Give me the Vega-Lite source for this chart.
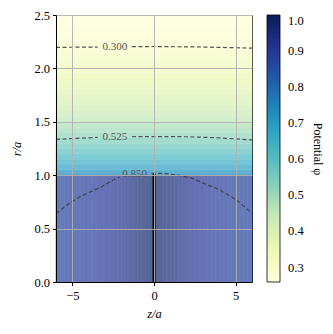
{
  "$schema": "https://vega.github.io/schema/vega-lite/v6.json",
  "autosize": "none",
  "padding": {"left": 56, "top": 15, "right": 81, "bottom": 52},
  "width": 196,
  "height": 267,
  "config": {
    "font": "Liberation Serif",
    "view": {"stroke": "black", "strokeWidth": 1},
    "axis": {
      "labelFont": "Liberation Serif",
      "titleFont": "Liberation Serif",
      "labelFontSize": 12.5,
      "titleFontSize": 12.5,
      "titleFontWeight": "normal",
      "titleFontStyle": "italic",
      "labelColor": "black",
      "titleColor": "black",
      "domainColor": "black",
      "tickColor": "black",
      "tickSize": 3.5,
      "labelPadding": 3,
      "grid": true,
      "gridColor": "#b0b0b0",
      "gridWidth": 0.9,
      "gridOpacity": 1
    }
  },
  "datasets": {
    "heat": [
      {"z": -6, "z2": 6, "r": 1.0, "r2": 1.05, "phi": 0.7288},
      {"z": -6, "z2": 6, "r": 1.05, "r2": 1.1, "phi": 0.6897},
      {"z": -6, "z2": 6, "r": 1.1, "r2": 1.15, "phi": 0.6542},
      {"z": -6, "z2": 6, "r": 1.15, "r2": 1.2, "phi": 0.622},
      {"z": -6, "z2": 6, "r": 1.2, "r2": 1.25, "phi": 0.5927},
      {"z": -6, "z2": 6, "r": 1.25, "r2": 1.3, "phi": 0.5658},
      {"z": -6, "z2": 6, "r": 1.3, "r2": 1.35, "phi": 0.5411},
      {"z": -6, "z2": 6, "r": 1.35, "r2": 1.4, "phi": 0.5184},
      {"z": -6, "z2": 6, "r": 1.4, "r2": 1.45, "phi": 0.4973},
      {"z": -6, "z2": 6, "r": 1.45, "r2": 1.5, "phi": 0.4778},
      {"z": -6, "z2": 6, "r": 1.5, "r2": 1.55, "phi": 0.4597},
      {"z": -6, "z2": 6, "r": 1.55, "r2": 1.6, "phi": 0.4428},
      {"z": -6, "z2": 6, "r": 1.6, "r2": 1.65, "phi": 0.427},
      {"z": -6, "z2": 6, "r": 1.65, "r2": 1.7, "phi": 0.4123},
      {"z": -6, "z2": 6, "r": 1.7, "r2": 1.75, "phi": 0.3985},
      {"z": -6, "z2": 6, "r": 1.75, "r2": 1.8, "phi": 0.3855},
      {"z": -6, "z2": 6, "r": 1.8, "r2": 1.85, "phi": 0.3733},
      {"z": -6, "z2": 6, "r": 1.85, "r2": 1.9, "phi": 0.3617},
      {"z": -6, "z2": 6, "r": 1.9, "r2": 1.95, "phi": 0.3509},
      {"z": -6, "z2": 6, "r": 1.95, "r2": 2.0, "phi": 0.3406},
      {"z": -6, "z2": 6, "r": 2.0, "r2": 2.05, "phi": 0.3308},
      {"z": -6, "z2": 6, "r": 2.05, "r2": 2.1, "phi": 0.3216},
      {"z": -6, "z2": 6, "r": 2.1, "r2": 2.15, "phi": 0.3128},
      {"z": -6, "z2": 6, "r": 2.15, "r2": 2.2, "phi": 0.3045},
      {"z": -6, "z2": 6, "r": 2.2, "r2": 2.25, "phi": 0.2966},
      {"z": -6, "z2": 6, "r": 2.25, "r2": 2.3, "phi": 0.289},
      {"z": -6, "z2": 6, "r": 2.3, "r2": 2.35, "phi": 0.2819},
      {"z": -6, "z2": 6, "r": 2.35, "r2": 2.4, "phi": 0.275},
      {"z": -6, "z2": 6, "r": 2.4, "r2": 2.45, "phi": 0.2684},
      {"z": -6, "z2": 6, "r": 2.45, "r2": 2.5, "phi": 0.2621},
      {"z": -6, "z2": -5.75, "r": 0, "r2": 1, "phi": 0.875},
      {"z": -5.75, "z2": -5.5, "r": 0, "r2": 1, "phi": 0.877},
      {"z": -5.5, "z2": -5.25, "r": 0, "r2": 1, "phi": 0.879},
      {"z": -5.25, "z2": -5, "r": 0, "r2": 1, "phi": 0.881},
      {"z": -5, "z2": -4.75, "r": 0, "r2": 1, "phi": 0.883},
      {"z": -4.75, "z2": -4.5, "r": 0, "r2": 1, "phi": 0.885},
      {"z": -4.5, "z2": -4.25, "r": 0, "r2": 1, "phi": 0.887},
      {"z": -4.25, "z2": -4, "r": 0, "r2": 1, "phi": 0.889},
      {"z": -4, "z2": -3.75, "r": 0, "r2": 1, "phi": 0.891},
      {"z": -3.75, "z2": -3.5, "r": 0, "r2": 1, "phi": 0.894},
      {"z": -3.5, "z2": -3.25, "r": 0, "r2": 1, "phi": 0.897},
      {"z": -3.25, "z2": -3, "r": 0, "r2": 1, "phi": 0.9},
      {"z": -3, "z2": -2.75, "r": 0, "r2": 1, "phi": 0.903},
      {"z": -2.75, "z2": -2.5, "r": 0, "r2": 1, "phi": 0.907},
      {"z": -2.5, "z2": -2.25, "r": 0, "r2": 1, "phi": 0.912},
      {"z": -2.25, "z2": -2, "r": 0, "r2": 1, "phi": 0.918},
      {"z": -2, "z2": -1.75, "r": 0, "r2": 1, "phi": 0.925},
      {"z": -1.75, "z2": -1.5, "r": 0, "r2": 1, "phi": 0.932},
      {"z": -1.5, "z2": -1.25, "r": 0, "r2": 1, "phi": 0.94},
      {"z": -1.25, "z2": -1, "r": 0, "r2": 1, "phi": 0.948},
      {"z": -1, "z2": -0.75, "r": 0, "r2": 1, "phi": 0.956},
      {"z": -0.75, "z2": -0.5, "r": 0, "r2": 1, "phi": 0.964},
      {"z": -0.5, "z2": -0.25, "r": 0, "r2": 1, "phi": 0.972},
      {"z": -0.25, "z2": 0, "r": 0, "r2": 1, "phi": 0.98},
      {"z": 0, "z2": 0.25, "r": 0, "r2": 1, "phi": 0.98},
      {"z": 0.25, "z2": 0.5, "r": 0, "r2": 1, "phi": 0.972},
      {"z": 0.5, "z2": 0.75, "r": 0, "r2": 1, "phi": 0.964},
      {"z": 0.75, "z2": 1, "r": 0, "r2": 1, "phi": 0.956},
      {"z": 1, "z2": 1.25, "r": 0, "r2": 1, "phi": 0.948},
      {"z": 1.25, "z2": 1.5, "r": 0, "r2": 1, "phi": 0.94},
      {"z": 1.5, "z2": 1.75, "r": 0, "r2": 1, "phi": 0.932},
      {"z": 1.75, "z2": 2, "r": 0, "r2": 1, "phi": 0.925},
      {"z": 2, "z2": 2.25, "r": 0, "r2": 1, "phi": 0.918},
      {"z": 2.25, "z2": 2.5, "r": 0, "r2": 1, "phi": 0.912},
      {"z": 2.5, "z2": 2.75, "r": 0, "r2": 1, "phi": 0.907},
      {"z": 2.75, "z2": 3, "r": 0, "r2": 1, "phi": 0.903},
      {"z": 3, "z2": 3.25, "r": 0, "r2": 1, "phi": 0.9},
      {"z": 3.25, "z2": 3.5, "r": 0, "r2": 1, "phi": 0.897},
      {"z": 3.5, "z2": 3.75, "r": 0, "r2": 1, "phi": 0.894},
      {"z": 3.75, "z2": 4, "r": 0, "r2": 1, "phi": 0.891},
      {"z": 4, "z2": 4.25, "r": 0, "r2": 1, "phi": 0.889},
      {"z": 4.25, "z2": 4.5, "r": 0, "r2": 1, "phi": 0.887},
      {"z": 4.5, "z2": 4.75, "r": 0, "r2": 1, "phi": 0.885},
      {"z": 4.75, "z2": 5, "r": 0, "r2": 1, "phi": 0.883},
      {"z": 5, "z2": 5.25, "r": 0, "r2": 1, "phi": 0.881},
      {"z": 5.25, "z2": 5.5, "r": 0, "r2": 1, "phi": 0.879},
      {"z": 5.5, "z2": 5.75, "r": 0, "r2": 1, "phi": 0.877},
      {"z": 5.75, "z2": 6, "r": 0, "r2": 1, "phi": 0.875}
    ],
    "contours": [
      {"seg": "300a", "z": -6, "r": 2.197},
      {"seg": "300a", "z": -3.45, "r": 2.2},
      {"seg": "300b", "z": -1.35, "r": 2.203},
      {"seg": "300b", "z": 0, "r": 2.205},
      {"seg": "300b", "z": 3, "r": 2.2},
      {"seg": "300b", "z": 6, "r": 2.19},
      {"seg": "525a", "z": -6, "r": 1.336},
      {"seg": "525a", "z": -4.5, "r": 1.347},
      {"seg": "525a", "z": -3.45, "r": 1.354},
      {"seg": "525b", "z": -1.35, "r": 1.36},
      {"seg": "525b", "z": 0, "r": 1.362},
      {"seg": "525b", "z": 2, "r": 1.36},
      {"seg": "525b", "z": 4, "r": 1.35},
      {"seg": "525b", "z": 6, "r": 1.33},
      {"seg": "850a", "z": -6, "r": 0.643},
      {"seg": "850a", "z": -5.5, "r": 0.7},
      {"seg": "850a", "z": -5.03, "r": 0.752},
      {"seg": "850a", "z": -4.5, "r": 0.8},
      {"seg": "850a", "z": -4.1, "r": 0.83},
      {"seg": "850a", "z": -3.6, "r": 0.865},
      {"seg": "850a", "z": -3.19, "r": 0.892},
      {"seg": "850a", "z": -2.8, "r": 0.93},
      {"seg": "850a", "z": -2.38, "r": 0.965},
      {"seg": "850a", "z": -2.1, "r": 0.983},
      {"seg": "850b", "z": -0.15, "r": 1.018},
      {"seg": "850b", "z": 0.57, "r": 1.018},
      {"seg": "850b", "z": 1.5, "r": 1.0},
      {"seg": "850b", "z": 2.4, "r": 0.968},
      {"seg": "850b", "z": 3.2, "r": 0.913},
      {"seg": "850b", "z": 3.82, "r": 0.877},
      {"seg": "850b", "z": 4.5, "r": 0.82},
      {"seg": "850b", "z": 5.04, "r": 0.768},
      {"seg": "850b", "z": 5.5, "r": 0.71},
      {"seg": "850b", "z": 6, "r": 0.643}
    ],
    "labels": [
      {"t": "0.300", "z": -2.4, "r": 2.2},
      {"t": "0.525", "z": -2.4, "r": 1.358},
      {"t": "0.850", "z": -1.18, "r": 1.01}
    ],
    "disk": [
      {"z": 0, "r": 0, "r2": 1.01}
    ]
  },
  "resolve": {"scale": {"color": "independent"}},
  "layer": [
    {
      "data": {"name": "heat"},
      "mark": {"type": "rect", "strokeWidth": 0.7},
      "encoding": {
        "x": {"field": "z", "type": "quantitative", "scale": {"domain": [-6, 6], "nice": false, "zero": false},
              "axis": {"title": "z/a", "values": [-5, 0, 5], "grid": true, "zindex": 1, "labelPadding": 4, "titlePadding": 5}},
        "x2": {"field": "z2"},
        "y": {"field": "r", "type": "quantitative", "scale": {"domain": [0, 2.5], "nice": false},
              "axis": {"title": "r/a", "values": [0, 0.5, 1, 1.5, 2, 2.5], "format": ".1f", "grid": true, "zindex": 1, "titlePadding": 10}},
        "y2": {"field": "r2"},
        "color": {
          "field": "phi", "type": "quantitative",
          "scale": {"domain": [0.26, 1.0], "range": ["#ffffe4", "#f2fac8", "#d8f0cb", "#a5dccf", "#7accd6", "#61b2d3", "#648ec2", "#6671b4", "#52618a"], "interpolate": "rgb"},
          "legend": null
        },
        "stroke": {
          "field": "phi", "type": "quantitative",
          "scale": {"domain": [0.26, 1.0], "range": ["#ffffe4", "#f2fac8", "#d8f0cb", "#a5dccf", "#7accd6", "#61b2d3", "#648ec2", "#6671b4", "#52618a"], "interpolate": "rgb"},
          "legend": null
        }
      }
    },
    {
      "data": {"name": "heat"},
      "mark": {"type": "point", "opacity": 0, "size": 1},
      "encoding": {
        "x": {"field": "z", "type": "quantitative"},
        "y": {"field": "r", "type": "quantitative"},
        "color": {
          "field": "phi", "type": "quantitative",
          "scale": {"domain": [0.26, 1.0], "range": ["#ffffd9", "#edf8b1", "#c7e9b4", "#7fcdbb", "#41b6c4", "#1d91c0", "#225ea8", "#253494", "#081d58"], "interpolate": "rgb"},
          "legend": {
            "type": "gradient",
            "title": "Potential φ",
            "orient": "right",
            "offset": 12,
            "padding": 0,
            "direction": "vertical",
            "gradientLength": 267,
            "gradientThickness": 13,
            "gradientStrokeColor": "black",
            "gradientStrokeWidth": 0.8,
            "values": [0.3, 0.4, 0.5, 0.6, 0.7, 0.8, 0.9, 1.0],
            "format": ".1f",
            "labelFont": "Liberation Serif",
            "labelFontSize": 12.5,
            "labelColor": "black",
            "labelOffset": 8,
            "labelOverlap": false,
            "titleFont": "Liberation Serif",
            "titleFontSize": 12,
            "titleFontWeight": "normal",
            "titleColor": "black",
            "titleOrient": "right",
            "titleAngle": 270,
            "titleAnchor": "middle",
            "titlePadding": 7,
            "encode": {"gradient": {"update": {"opacity": {"value": 1}}}}
          }
        }
      }
    },
    {
      "data": {"name": "contours"},
      "mark": {"type": "line", "color": "#3a3a3a", "strokeWidth": 1.2, "strokeDash": [4, 2.5], "opacity": 0.85},
      "encoding": {
        "x": {"field": "z", "type": "quantitative"},
        "y": {"field": "r", "type": "quantitative"},
        "detail": {"field": "seg"}
      }
    },
    {
      "data": {"name": "labels"},
      "mark": {"type": "text", "color": "#555555", "fontSize": 11, "font": "Liberation Serif", "align": "center", "baseline": "middle"},
      "encoding": {
        "x": {"field": "z", "type": "quantitative"},
        "y": {"field": "r", "type": "quantitative"},
        "text": {"field": "t"}
      }
    },
    {
      "data": {"name": "disk"},
      "mark": {"type": "rule", "color": "black", "strokeWidth": 3},
      "encoding": {
        "x": {"field": "z", "type": "quantitative"},
        "y": {"field": "r", "type": "quantitative"},
        "y2": {"field": "r2"}
      }
    }
  ]
}
